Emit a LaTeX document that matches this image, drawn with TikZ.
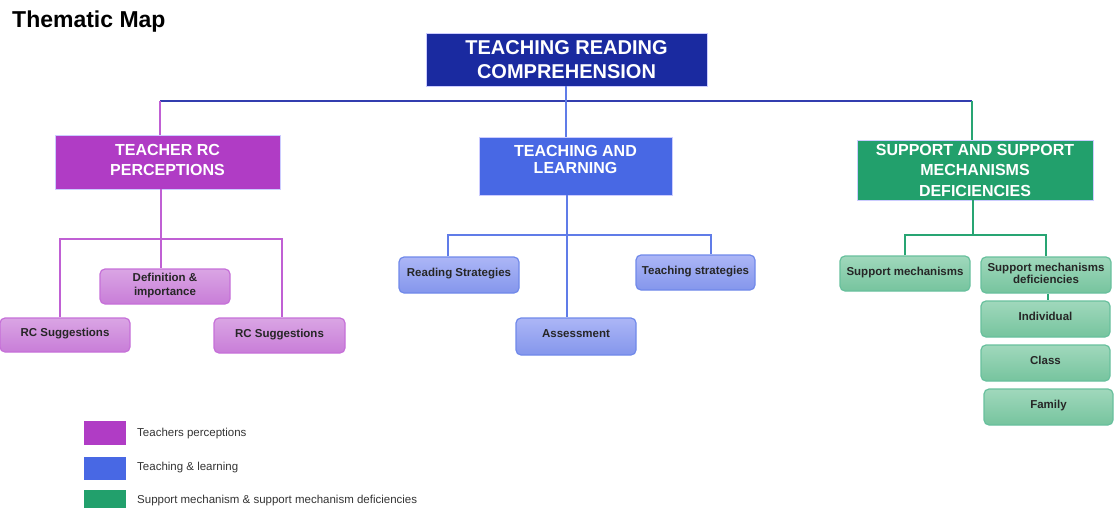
\documentclass[tikz,border=0pt]{standalone}
\usepackage{fontspec}
\setmainfont{Liberation Sans}
\definecolor{topblue}{RGB}{26,42,160}
\definecolor{tpurple}{RGB}{176,60,197}
\definecolor{tblue}{RGB}{72,104,228}
\definecolor{tgreen}{RGB}{34,160,108}
\definecolor{barblue}{RGB}{50,62,175}
\definecolor{linepurple}{RGB}{192,96,212}
\definecolor{lineblue}{RGB}{96,124,232}
\definecolor{linegreen}{RGB}{40,165,115}
\tikzset{
  mainbox/.style={draw=white!80!blue, line width=0.8pt, inner sep=0pt, align=center, text=white, font=\bfseries\fontsize{16}{20.5}\selectfont},
  childbox/.style={rounded corners=5pt, line width=1.2pt, inner sep=0pt, align=center, font=\bfseries\fontsize{11.5}{12}\selectfont, text=black!85},
  pchild/.style={childbox, draw=linepurple!90, top color={rgb,255:red,218;green,165;blue,228}, bottom color={rgb,255:red,200;green,125;blue,216}},
  bchild/.style={childbox, draw=lineblue!90, top color={rgb,255:red,172;green,182;blue,246}, bottom color={rgb,255:red,132;green,150;blue,236}},
  gchild/.style={childbox, draw=linegreen!70, top color={rgb,255:red,160;green,216;blue,188}, bottom color={rgb,255:red,118;green,196;blue,158}},
  conn/.style={line width=1.6pt},
  legsq/.style={inner sep=0pt, minimum width=42pt},
  legtext/.style={anchor=west, inner sep=0pt, text=black!80, font=\fontsize{11.5}{13}\selectfont}
}
\begin{document}
\begin{tikzpicture}[x=1pt,y=-1pt]
\useasboundingbox (0,0) rectangle (1115,508);
% title
\node[anchor=west, inner sep=0pt, font=\bfseries\fontsize{23}{26}\selectfont] (title) at (12,21.5) {Thematic Map};
% top level
\node[mainbox, fill=topblue, minimum width=281pt, minimum height=53pt, font=\bfseries\fontsize{20}{24}\selectfont] (trc) at (566.5,59.5) {TEACHING READING\\COMPREHENSION};
\node[mainbox, fill=tpurple, minimum width=225pt, minimum height=54pt] (tp) at (167.5,162) {TEACHER RC\\PERCEPTIONS\\[-16.5pt]};
\node[mainbox, fill=tblue, minimum width=193pt, minimum height=58pt, font=\bfseries\fontsize{16}{17}\selectfont] (tl) at (575.5,166) {TEACHING AND\\LEARNING\\[-4pt]};
\node[mainbox, fill=tgreen, minimum width=236pt, minimum height=60pt] (sup) at (975,170) {SUPPORT AND SUPPORT\\MECHANISMS\\DEFICIENCIES};
% junctions
\coordinate (jl) at (160,101);
\coordinate (jm) at (566,101);
\coordinate (jr) at (972,101);
% purple children
\node[pchild, minimum width=130pt, minimum height=35pt, font=\bfseries\fontsize{11.5}{14}\selectfont] (def) at (165,286.5) {Definition \&\\importance\\[-9pt]};
\node[pchild, minimum width=130pt, minimum height=34pt] (rc1) at (65,335) {RC Suggestions\\[-7pt]};
\node[pchild, minimum width=131pt, minimum height=35pt] (rc2) at (279.5,335.5) {RC Suggestions\\[-7pt]};
% blue children
\node[bchild, minimum width=120pt, minimum height=36pt] (rs) at (459,275) {Reading Strategies\\[-7pt]};
\node[bchild, minimum width=119pt, minimum height=35pt] (ts) at (695.5,272.5) {Teaching strategies\\[-7pt]};
\node[bchild, minimum width=120pt, minimum height=37pt] (as) at (576,336.5) {Assessment\\[-7pt]};
% green children
\node[gchild, minimum width=130pt, minimum height=35pt] (sm) at (905,273.5) {Support mechanisms\\[-7pt]};
\node[gchild, minimum width=130pt, minimum height=36pt] (smd) at (1046,275) {Support mechanisms\\deficiencies\\[-8pt]};
\node[gchild, minimum width=129pt, minimum height=36pt] (ind) at (1045.5,319) {Individual\\[-7pt]};
\node[gchild, minimum width=129pt, minimum height=36pt] (cls) at (1045.5,363) {Class\\[-7pt]};
\node[gchild, minimum width=129pt, minimum height=36pt] (fam) at (1048.5,407) {Family\\[-7pt]};
% top connectors
\draw[conn, barblue] (jl) -- (jr);
\draw[conn, lineblue] (trc.south -| jm) -- (tl.north -| jm);
\draw[conn, linepurple] (jl) -- (tp.north -| jl);
\draw[conn, linegreen] (jr) -- (sup.north -| jr);
% purple tree
\coordinate (pj) at (161,239);
\coordinate (pl) at (60,239);
\coordinate (pr) at (282,239);
\draw[conn, linepurple] (tp.south -| pj) -- (def.north -| pj);
\draw[conn, linepurple] (rc1.north -| pl) -- (pl) -- (pr) -- (rc2.north -| pr);
% blue tree
\coordinate (bj) at (567,235);
\coordinate (bl) at (448,235);
\coordinate (br) at (711,235);
\draw[conn, lineblue] (tl.south -| bj) -- (as.north -| bj);
\draw[conn, lineblue] (rs.north -| bl) -- (bl) -- (br) -- (ts.north -| br);
% green tree
\coordinate (gj) at (973,235);
\coordinate (gl) at (905,235);
\coordinate (gr) at (1046,235);
\coordinate (gd) at (1048,300);
\draw[conn, linegreen] (sup.south -| gj) -- (gj);
\draw[conn, linegreen] (sm.north -| gl) -- (gl) -- (gr) -- (smd.north -| gr);
\draw[conn, linegreen] (smd.south -| gd) -- (ind.north -| gd);
% legend
\node[legsq, fill=tpurple, minimum height=24pt] (lp) at (105,433) {};
\node[legsq, fill=tblue, minimum height=23pt] (lb) at (105,468.5) {};
\node[legsq, fill=tgreen, minimum height=22pt] (lg) at (105,501) {};
\node[legtext] (lpt) at (137,434) {Teachers perceptions};
\node[legtext] (lbt) at (137,468) {Teaching \& learning};
\node[legtext] (lgt) at (137,501) {Support mechanism \& support mechanism deficiencies};
\end{tikzpicture}
\end{document}
